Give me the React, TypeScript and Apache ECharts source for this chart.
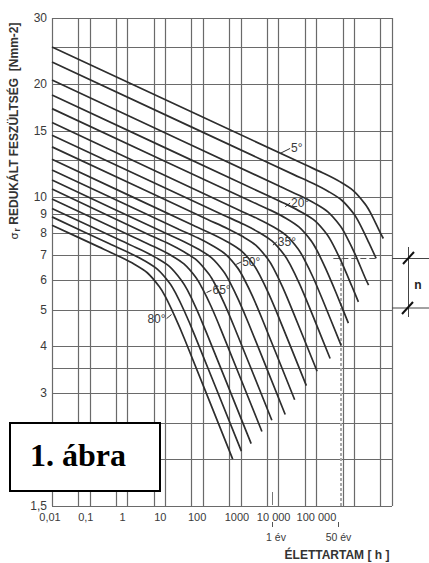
import React, { useEffect, useRef } from 'react';
import * as echarts from 'echarts';

// Temperature curves: [hours, reduced stress N/mm2]
const c05 = [[0.01, 25.1], [5.06e4, 12.18], [1.71e5, 11.51], [4.27e5, 10.97], [9.42e5, 10.4], [1.95e6, 9.57], [2.82e6, 9.0], [4.88e6, 8.03], [5.9e6, 7.75]];
const c10 = [[0.01, 22.9], [2.51e4, 11.47], [8.49e4, 10.84], [2.12e5, 10.33], [4.68e5, 9.8], [9.71e5, 9.02], [1.4e6, 8.48], [2.42e6, 7.57], [3.8e6, 6.86]];
const c15 = [[0.01, 20.5], [1.1e4, 10.66], [3.71e4, 10.07], [9.25e4, 9.6], [2.04e5, 9.11], [4.24e5, 8.38], [6.11e5, 7.88], [1.06e6, 7.03], [1.94e6, 6.09], [2.4e6, 5.82]];
const c20 = [[0.01, 18.7], [4930, 10.1], [1.67e4, 9.54], [4.16e4, 9.09], [9.18e4, 8.63], [1.91e5, 7.94], [2.75e5, 7.46], [4.75e5, 6.66], [8.73e5, 5.77], [1.29e6, 5.25]];
const c25 = [[0.01, 17.2], [1840, 9.74], [6220, 9.21], [1.55e4, 8.78], [3.43e4, 8.32], [7.11e4, 7.66], [1.03e5, 7.2], [1.77e5, 6.43], [3.26e5, 5.57], [7.0e5, 4.61]];
const c30 = [[0.01, 15.8], [849, 9.25], [2870, 8.74], [7160, 8.33], [1.58e4, 7.9], [3.28e4, 7.27], [4.73e4, 6.83], [8.18e4, 6.1], [1.5e5, 5.28], [4.5e5, 4.02]];
const c35 = [[0.01, 14.6], [362, 8.93], [1220, 8.44], [3050, 8.04], [6750, 7.62], [1.4e4, 7.01], [2.02e4, 6.6], [3.49e4, 5.89], [6.41e4, 5.1], [2.3e5, 3.71]];
const c40 = [[0.01, 13.6], [132, 8.71], [448, 8.23], [1117, 7.84], [2470, 7.44], [5120, 6.84], [7380, 6.44], [1.28e4, 5.74], [2.34e4, 4.97], [1.04e5, 3.43]];
const c45 = [[0.01, 12.6], [56.1, 8.39], [190, 7.93], [473, 7.56], [1045, 7.17], [2170, 6.6], [3130, 6.2], [5410, 5.53], [9930, 4.79], [5.4e4, 3.14]];
const c50 = [[0.01, 11.8], [21.2, 8.23], [71.6, 7.78], [179, 7.41], [394, 7.03], [818, 6.47], [1180, 6.08], [2040, 5.43], [3750, 4.7], [2.65e4, 2.88]];
const c55 = [[0.01, 11.1], [9.02, 8.05], [30.5, 7.61], [76, 7.25], [168, 6.88], [348, 6.33], [502, 5.95], [869, 5.31], [1600, 4.6], [1.49e4, 2.63]];
const c60 = [[0.01, 10.5], [3.68, 7.93], [12.4, 7.5], [31, 7.14], [68.5, 6.78], [142, 6.23], [205, 5.86], [355, 5.23], [652, 4.53], [6600, 2.54]];
const c65 = [[0.01, 9.87], [1.67, 7.76], [5.65, 7.33], [14.1, 6.99], [31.1, 6.63], [64.6, 6.1], [93.1, 5.73], [161, 5.12], [296, 4.43], [3600, 2.37]];
const c70 = [[0.01, 9.32], [0.686, 7.64], [2.32, 7.22], [5.78, 6.88], [12.8, 6.53], [26.5, 6.0], [38.2, 5.65], [66.1, 5.04], [121, 4.36], [1870, 2.2]];
const c75 = [[0.01, 8.85], [0.334, 7.5], [1.13, 7.09], [2.82, 6.76], [6.22, 6.41], [12.9, 5.9], [18.6, 5.55], [32.2, 4.95], [59.2, 4.29], [1030, 2.1]];
const c80 = [[0.01, 8.41], [0.179, 7.35], [0.604, 6.94], [1.51, 6.62], [3.33, 6.28], [6.9, 5.77], [9.95, 5.43], [17.2, 4.84], [31.6, 4.2], [607, 2.0]];

const curves = [c05, c10, c15, c20, c25, c30, c35, c40, c45, c50, c55, c60, c65, c70, c75, c80];
const temperatures = [5, 10, 15, 20, 25, 30, 35, 40, 45, 50, 55, 60, 65, 70, 75, 80];

// Grid lines and tick labels
const xGridValues = [0.01, 0.05, 0.1, 0.5, 1, 5, 10, 50, 100, 500, 1000, 5000, 10000, 50000, 100000, 500000, 1000000, 5000000, 10000000];
const yGridValues = [1.5, 2, 2.5, 3, 3.5, 4, 5, 6, 7, 8, 9, 10, 12.5, 15, 20, 25, 30];
const xTickValues = [0.01, 0.1, 1, 10, 100, 1000, 10000, 100000];
const xTickLabels = ['0,01', '0,1', '1', '10', '100', '1000', '10 000', '100 000'];
const xTickShift = [2, 4, 5, 5, 6, 4, 5, 0];
const yTickValues = [1.5, 3, 4, 5, 6, 7, 8, 9, 10, 15, 20, 30];
const yTickLabels = ['1,5', '3', '4', '5', '6', '7', '8', '9', '10', '15', '20', '30'];
const yTickShift = [4, 0, 0, 0, 0, 0, 0, 0, 0, 0, 0, 0];

// Temperature labels: leader from curve point to text point
const labelTemps = [5, 20, 35, 50, 65, 80];
const labelFrom = [[1.1e4, 13.07], [1.49e4, 9.42], [7030, 7.44], [752, 6.61], [123, 5.56], [14.6, 4.86]];
const labelTo = [[2.01e4, 13.47], [2.01e4, 9.63], [8960, 7.59], [1019, 6.71], [167, 5.64], [10.8, 4.74]];
const labelSide = ['right', 'right', 'right', 'right', 'right', 'left'];

// 50-year reference
const fiftyYears = 438000;
const refStress = 6.86;
const refDashStart = 2.8e5;
const refDashEnd = 3.8e6;

const GRID_COLOR = '#6a6a6a';
const CURVE_COLOR = '#2e2e2e';
const TEXT_COLOR = '#3a3a3a';

export default function App() {
  const ref = useRef<HTMLDivElement>(null);
  useEffect(() => {
    if (!ref.current) return;
    const chart = echarts.init(ref.current, undefined, { renderer: 'svg' });

    const gridLines: any[] = [];
    xGridValues.forEach((v) => {
      const i = xTickValues.indexOf(v);
      gridLines.push({
        xAxis: v,
        label: i >= 0
          ? {
            show: true, position: 'start', formatter: xTickLabels[i], color: TEXT_COLOR, fontSize: 11,
            distance: 5, fontFamily: 'Liberation Sans', padding: [0, 2 * xTickShift[i], 0, 0],
          }
          : { show: false },
      });
    });
    yGridValues.forEach((v) => {
      const i = yTickValues.indexOf(v);
      gridLines.push({
        yAxis: v,
        label: i >= 0
          ? {
            show: true, position: 'start', formatter: yTickLabels[i], color: TEXT_COLOR, fontSize: 12,
            distance: 5, fontFamily: 'Liberation Sans', padding: [0, 0, 2 * yTickShift[i], 0],
          }
          : { show: false },
      });
    });
    gridLines.push([
      { coord: [fiftyYears, 1.5], lineStyle: { color: '#a8a8a8', width: 2, type: [3, 2] } },
      { coord: [fiftyYears, refStress] },
    ]);
    gridLines.push([
      { coord: [refDashStart, refStress], lineStyle: { color: '#555', width: 1, type: [6, 3] } },
      { coord: [refDashEnd, refStress] },
    ]);

    const series: any[] = [
      {
        type: 'line',
        data: [[0.01, 1.5]],
        showSymbol: false,
        lineStyle: { opacity: 0 },
        silent: true,
        z: 1,
        markLine: {
          silent: true,
          symbol: ['none', 'none'],
          z: 1,
          animation: false,
          lineStyle: { color: GRID_COLOR, width: 1.2, type: 'solid' },
          label: { show: false },
          emphasis: { disabled: true },
          data: gridLines,
        },
      },
    ];

    curves.forEach((c, k) => {
      const li = labelTemps.indexOf(temperatures[k]);
      const s: any = {
        type: 'line',
        name: temperatures[k] + '°',
        data: c,
        showSymbol: false,
        smooth: 0.3,
        silent: true,
        z: 3,
        lineStyle: { color: CURVE_COLOR, width: 1.7 },
      };
      if (li >= 0) {
        s.markLine = {
          silent: true,
          symbol: ['none', 'none'],
          animation: false,
          z: 4,
          lineStyle: { color: CURVE_COLOR, width: 1, type: 'solid' },
          label: { show: false },
          data: [[{ coord: labelFrom[li] }, { coord: labelTo[li] }]],
        };
        s.markPoint = {
          silent: true,
          animation: false,
          z: 4,
          symbol: 'circle',
          symbolSize: 0,
          data: [{
            coord: labelTo[li],
            label: {
              show: true,
              position: labelSide[li],
              distance: 1,
              formatter: temperatures[k] + '°',
              color: TEXT_COLOR,
              fontSize: 12,
              fontFamily: 'Liberation Sans',
            },
          }],
        };
      }
      series.push(s);
    });

    const option: any = {
      animation: false,
      backgroundColor: '#ffffff',
      grid: { left: 52, right: 37, top: 18, bottom: 57, containLabel: false },
      xAxis: {
        type: 'log', logBase: 10, min: 0.01, max: 1e7,
        axisLine: { show: false }, axisTick: { show: false }, axisLabel: { show: false }, splitLine: { show: false },
      },
      yAxis: {
        type: 'log', logBase: 10, min: 1.5, max: 30,
        axisLine: { show: false }, axisTick: { show: false }, axisLabel: { show: false }, splitLine: { show: false },
      },
      series,
      graphic: [
        {
          type: 'text', x: 14, y: 131, rotation: Math.PI / 2, z: 10,
          style: {
            text: '{a|σ}{b|r} REDUKÁLT FESZÜLTSÉG  [Nmm-2]',
            fontSize: 12, fontWeight: 'bold', fontFamily: 'Liberation Sans', fill: '#333',
            align: 'center', verticalAlign: 'middle',
            rich: {
              a: { fontSize: 11, fontWeight: 'normal', fontFamily: 'DejaVu Sans', fill: '#333' },
              b: { fontSize: 9, fontWeight: 'bold', fontFamily: 'Liberation Sans', fill: '#333', padding: [5, 0, 0, 1] },
            },
          },
        },
        {
          type: 'text', x: 337, y: 555, z: 10,
          style: { text: 'ÉLETTARTAM [ h ]', fontSize: 12, fontWeight: 'bold', fontFamily: 'Liberation Sans', fill: '#333', align: 'center', verticalAlign: 'middle' },
        },
        {
          type: 'text', x: 276, y: 537, z: 10,
          style: { text: '1 év', fontSize: 10.5, fontFamily: 'Liberation Sans', fill: TEXT_COLOR, align: 'center', verticalAlign: 'middle' },
        },
        {
          type: 'text', x: 338.5, y: 537, z: 10,
          style: { text: '50 év', fontSize: 10.5, fontFamily: 'Liberation Sans', fill: TEXT_COLOR, align: 'center', verticalAlign: 'middle' },
        },
        { type: 'line', z: 10, shape: { x1: 272.5, y1: 522, x2: 272.5, y2: 527 }, style: { stroke: '#555', lineWidth: 1 } },
        { type: 'line', z: 10, shape: { x1: 338.5, y1: 522, x2: 338.5, y2: 527 }, style: { stroke: '#555', lineWidth: 1 } },
        { type: 'line', z: 10, shape: { x1: 272.5, y1: 492, x2: 272.5, y2: 505 }, style: { stroke: '#777', lineWidth: 1 } },
        // n marker
        { type: 'line', z: 10, shape: { x1: 392, y1: 258.5, x2: 429, y2: 258.5 }, style: { stroke: '#444', lineWidth: 1 } },
        { type: 'line', z: 10, shape: { x1: 392, y1: 308, x2: 429, y2: 308 }, style: { stroke: '#444', lineWidth: 1 } },
        { type: 'line', z: 10, shape: { x1: 408.5, y1: 247, x2: 408.5, y2: 317 }, style: { stroke: '#444', lineWidth: 1 } },
        { type: 'line', z: 10, shape: { x1: 403, y1: 264, x2: 414, y2: 252 }, style: { stroke: '#111', lineWidth: 2 } },
        { type: 'line', z: 10, shape: { x1: 402, y1: 314, x2: 413, y2: 302 }, style: { stroke: '#111', lineWidth: 2 } },
        {
          type: 'text', x: 418, y: 285, z: 10,
          style: { text: 'n', fontSize: 12, fontWeight: 'bold', fontFamily: 'Liberation Sans', fill: '#222', align: 'center', verticalAlign: 'middle' },
        },
        // figure caption box
        {
          type: 'rect', z: 20,
          shape: { x: 10, y: 423, width: 150, height: 68 },
          style: { fill: '#ffffff', stroke: '#000000', lineWidth: 2 },
        },
        {
          type: 'text', x: 30, y: 455, z: 21,
          style: { text: '1. ábra', fontSize: 32, fontWeight: 'bold', fontFamily: 'Liberation Serif', fill: '#000', align: 'left', verticalAlign: 'middle' },
        },
      ],
    };
    chart.setOption(option);
    return () => chart.dispose();
  }, []);
  return <div ref={ref} style={{ position: 'absolute', left: 0, top: 0, width: 429, height: 563, background: '#fff' }} />;
}
